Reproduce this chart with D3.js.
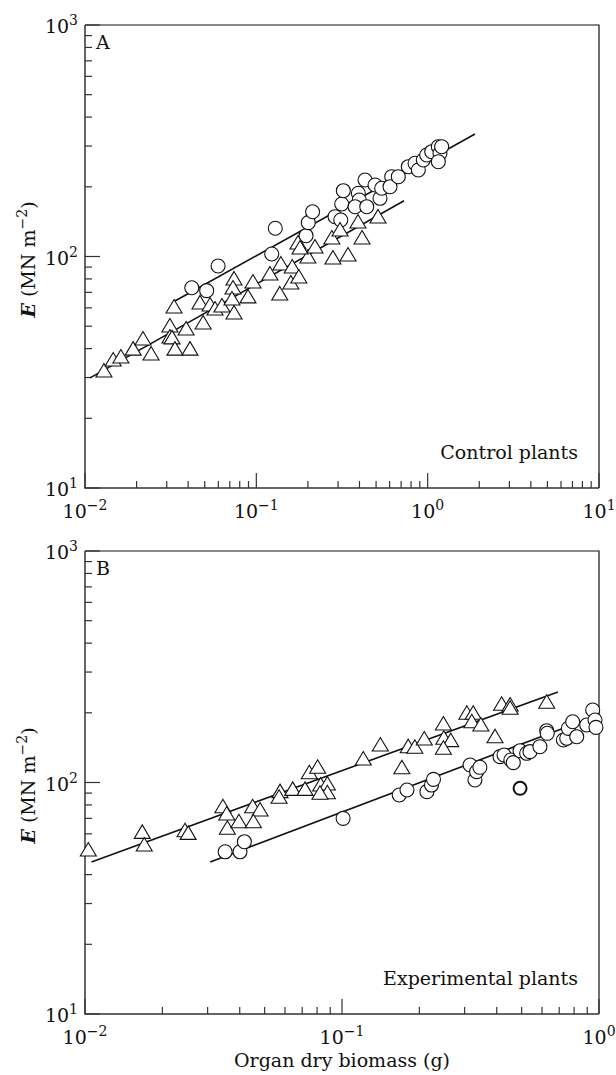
<!DOCTYPE html>
<html>
<head>
<meta charset="utf-8">
<script src="https://cdn.jsdelivr.net/npm/d3@7"></script>
<style>
  body { margin: 0; background: #fff; }
  text { font-family: "DejaVu Serif", serif; fill: #111; }
</style>
</head>
<body>
<svg id="chart" width="616" height="1075"></svg>
<script>
// ---- Panel A : control plants  [biomass (g), E (MN m-2)]
const ctrlTriangles = [
  [0.0129, 32.0], [0.0146, 35.7], [0.0162, 36.8], [0.0191, 39.8], [0.0218, 44.0],
  [0.0243, 37.9], [0.0313, 50.1], [0.0313, 44.9], [0.0322, 44.5], [0.0335, 39.8],
  [0.0389, 48.6], [0.0410, 39.8], [0.0331, 60.5], [0.0489, 51.6], [0.0469, 63.0],
  [0.0537, 61.7], [0.0574, 59.3], [0.0630, 61.1], [0.0741, 80.0], [0.0731, 73.1],
  [0.0721, 65.5], [0.0741, 57.0], [0.0894, 66.9], [0.0956, 77.6], [0.120, 84.0],
  [0.137, 68.9], [0.139, 92.8], [0.162, 90.1], [0.159, 76.8], [0.177, 81.5],
  [0.175, 114.4], [0.200, 99.5], [0.180, 108.8], [0.220, 109.9], [0.276, 120.2],
  [0.280, 98.5], [0.343, 101.5], [0.308, 130.2], [0.392, 141.0], [0.414, 120.2],
  [0.513, 148.2]
];
const ctrlCircles = [
  [0.0420, 73.3], [0.0513, 71.2], [0.0598, 91.0], [0.123, 102.5], [0.129, 132.4],
  [0.195, 123.0], [0.201, 140.0], [0.213, 156.1], [0.288, 148.6], [0.315, 168.6],
  [0.322, 192.4], [0.394, 187.5], [0.399, 175.4], [0.377, 164.1], [0.441, 164.1],
  [0.311, 143.8], [0.431, 214.0], [0.493, 203.7], [0.527, 178.4], [0.539, 197.1],
  [0.617, 221.2], [0.603, 200.2], [0.674, 221.2], [0.771, 244.3], [0.844, 252.7],
  [0.882, 236.4], [0.943, 261.2], [0.987, 274.4], [1.056, 283.6], [1.154, 298.1],
  [1.180, 279.1], [1.154, 256.8], [1.207, 298.1]
];
const ctrlFitTriangles = [[0.0107, 29.9], [0.728, 174]];
const ctrlFitCircles = [[0.0335, 64.2], [1.89, 338]];

// ---- Panel B : experimental plants
const expTriangles = [
  [0.0103, 51.1], [0.0167, 60.9], [0.0170, 53.7], [0.0245, 61.9], [0.0252, 60.3],
  [0.0344, 78.6], [0.0356, 73.1], [0.0358, 63.4], [0.0397, 67.7], [0.0449, 78.6],
  [0.0480, 76.1], [0.0452, 67.7], [0.0574, 91.3], [0.0569, 86.3], [0.0643, 93.4],
  [0.0718, 93.4], [0.0746, 110.2], [0.0804, 116.3], [0.0826, 97.5], [0.0877, 98.5],
  [0.0877, 90.3], [0.0821, 89.8], [0.121, 126.3], [0.141, 145.2], [0.171, 115.8],
  [0.181, 142.8], [0.192, 142.0], [0.209, 154.1], [0.248, 178.9], [0.249, 155.2],
  [0.265, 151.6], [0.248, 140.5], [0.306, 199.0], [0.324, 199.0], [0.320, 183.0],
  [0.347, 177.2], [0.394, 157.7], [0.418, 217.7], [0.451, 216.2], [0.451, 209.2],
  [0.626, 222.0]
];
const expCircles = [
  [0.0351, 50.2], [0.0401, 50.2], [0.0417, 55.5], [0.101, 70.0], [0.167, 88.3],
  [0.179, 92.8], [0.214, 91.3], [0.223, 97.5], [0.227, 103.2], [0.315, 119.0],
  [0.329, 102.5], [0.334, 111.4], [0.344, 116.3], [0.412, 129.3], [0.427, 131.5],
  [0.454, 125.1], [0.464, 121.8], [0.493, 137.2], [0.523, 133.7], [0.539, 135.9],
  [0.589, 142.8], [0.626, 167.4], [0.629, 163.1], [0.727, 152.6], [0.749, 155.2],
  [0.760, 171.4], [0.790, 183.0], [0.819, 157.7], [0.896, 177.2], [0.945, 205.7],
  [0.965, 186.2], [0.973, 173.1]
];
const expOutlier = [[0.493, 94.4]];
const expFitTriangles = [[0.0106, 45.4], [0.692, 246]];
const expFitCircles = [[0.0307, 45.4], [0.95, 192]];

const panelLetters = ["A", "B"];
const panelNotes = ["Control plants", "Experimental plants"];
const xDomains = [[0.01, 10], [0.01, 1]];
const yDomain = [10, 1000];
const xLabel = "Organ dry biomass (g)";

const svg = d3.select("#chart");
const left = 85, right = 599;

const panels = [
  { top: 25, bottom: 488, tri: ctrlTriangles, circ: ctrlCircles, odd: [],
    fits: [ctrlFitTriangles, ctrlFitCircles] },
  { top: 551, bottom: 1014, tri: expTriangles, circ: expCircles, odd: expOutlier,
    fits: [expFitTriangles, expFitCircles] }
];

const isMajor = (t) => Math.abs(Math.log10(t) - Math.round(Math.log10(t))) < 1e-6;
const triPath = "M0,-7.5L8,6L-8,6Z";

panels.forEach((p, i) => {
  const x = d3.scaleLog().domain(xDomains[i]).range([left, right]);
  const y = d3.scaleLog().domain(yDomain).range([p.bottom, p.top]);
  const g = svg.append("g");

  // frame top / right
  g.append("path")
    .attr("d", `M${left},${p.top}H${right}V${p.bottom}`)
    .attr("fill", "none").attr("stroke", "#111").attr("stroke-width", 1.2);

  // y ticks (inside)
  y.ticks().forEach((t) => {
    const len = isMajor(t) ? 15 : 7;
    g.append("line")
      .attr("x1", left).attr("x2", left + len)
      .attr("y1", y(t)).attr("y2", y(t))
      .attr("stroke", "#333").attr("stroke-width", 1.2);
    if (isMajor(t)) {
      const lab = g.append("text")
        .attr("x", 78).attr("y", y(t) + 8)
        .attr("text-anchor", "end")
        .attr("font-size", 19);
      lab.append("tspan").text("10");
      lab.append("tspan").attr("dy", -8).attr("font-size", 14)
        .text(Math.round(Math.log10(t)));
    }
  });

  // x ticks (inside)
  x.ticks().forEach((t) => {
    const len = isMajor(t) ? 15 : 7;
    g.append("line")
      .attr("x1", x(t)).attr("x2", x(t))
      .attr("y1", p.bottom).attr("y2", p.bottom - len)
      .attr("stroke", "#333").attr("stroke-width", 1.2);
    if (isMajor(t)) {
      const e = Math.round(Math.log10(t));
      const lab = g.append("text")
        .attr("x", x(t)).attr("y", p.bottom + 30)
        .attr("text-anchor", "middle")
        .attr("font-size", 19);
      lab.append("tspan").text("10");
      lab.append("tspan").attr("dy", -8).attr("font-size", 14)
        .text(e < 0 ? "\u2212" + Math.abs(e) : e);
    }
  });

  // axis lines
  g.append("path")
    .attr("d", `M${left},${p.top}V${p.bottom}H${right}`)
    .attr("fill", "none").attr("stroke", "#333").attr("stroke-width", 1.5);

  // y title
  const cy = (p.top + p.bottom) / 2 + 3;
  const yt = g.append("text")
    .attr("transform", `translate(35,${cy}) rotate(-90)`)
    .attr("text-anchor", "middle")
    .attr("font-size", 19);
  yt.append("tspan").attr("font-style", "italic").attr("font-weight", "bold").text("E");
  yt.append("tspan").text(" (MN m");
  yt.append("tspan").attr("dy", -8).attr("font-size", 14).text("\u22122");
  yt.append("tspan").attr("dy", 8).text(")");

  // regression lines
  const line = d3.line().x((d) => x(d[0])).y((d) => y(d[1]));
  p.fits.forEach((f) => {
    g.append("path").attr("d", line(f))
      .attr("fill", "none").attr("stroke", "#111").attr("stroke-width", 1.6);
  });

  // circles
  g.selectAll(".circ").data(p.circ).enter().append("circle")
    .attr("cx", (d) => x(d[0])).attr("cy", (d) => y(d[1])).attr("r", 7)
    .attr("fill", "#fff").attr("stroke", "#111").attr("stroke-width", 1.1);
  g.selectAll(".odd").data(p.odd).enter().append("circle")
    .attr("cx", (d) => x(d[0])).attr("cy", (d) => y(d[1])).attr("r", 6.5)
    .attr("fill", "#fff").attr("stroke", "#111").attr("stroke-width", 2);

  // triangles
  g.selectAll(".tri").data(p.tri).enter().append("path")
    .attr("d", triPath)
    .attr("transform", (d) => `translate(${x(d[0])},${y(d[1])})`)
    .attr("fill", "#fff").attr("stroke", "#111").attr("stroke-width", 1.1);

  // panel letter + note
  g.append("text").attr("x", 96).attr("y", p.top + 24)
    .attr("font-size", 19).text(panelLetters[i]);
  g.append("text").attr("x", 578).attr("y", p.bottom - 29)
    .attr("text-anchor", "end").attr("font-size", 19).text(panelNotes[i]);
});

// x axis title
svg.append("text")
  .attr("x", (left + right) / 2).attr("y", 1067)
  .attr("text-anchor", "middle").attr("font-size", 19)
  .text(xLabel);
</script>
</body>
</html>
